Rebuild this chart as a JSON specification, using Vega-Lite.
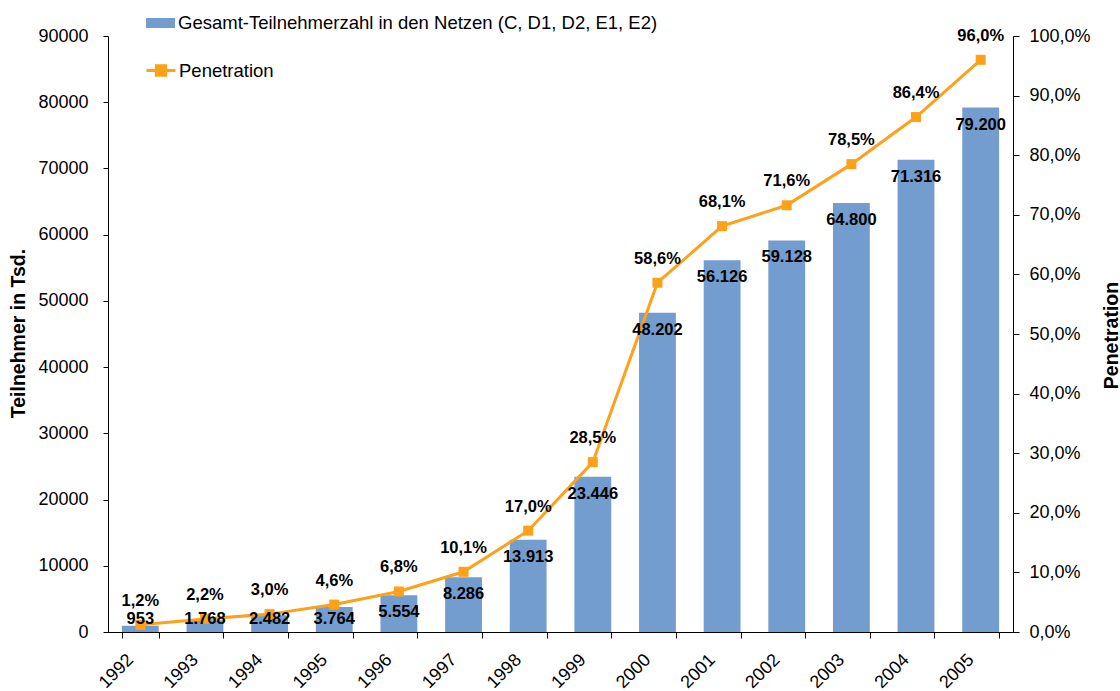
{
  "$schema": "https://vega.github.io/schema/vega-lite/v6.json",
  "width": 905,
  "height": 596,
  "autosize": {"type": "none"},
  "padding": {"left": 108, "top": 36, "right": 107, "bottom": 59},
  "background": "white",
  "config": {
    "locale": {"number": {"decimal": ",", "thousands": ".", "grouping": [3], "currency": ["", " €"]}},
    "view": {"stroke": null},
    "font": "Liberation Sans",
    "axis": {
      "domainColor": "#000", "tickColor": "#000", "labelColor": "#000", "titleColor": "#000",
      "labelFont": "Liberation Sans", "titleFont": "Liberation Sans",
      "labelFontSize": 18, "titleFontSize": 19.5, "titleFontWeight": "bold",
      "grid": false, "domainWidth": 1, "tickWidth": 1
    }
  },
  "data": {"values": [
    {"year": "1992", "value": 953, "pen": 0.012},
    {"year": "1993", "value": 1768, "pen": 0.022},
    {"year": "1994", "value": 2482, "pen": 0.030},
    {"year": "1995", "value": 3764, "pen": 0.046},
    {"year": "1996", "value": 5554, "pen": 0.068},
    {"year": "1997", "value": 8286, "pen": 0.101},
    {"year": "1998", "value": 13913, "pen": 0.170},
    {"year": "1999", "value": 23446, "pen": 0.285},
    {"year": "2000", "value": 48202, "pen": 0.586},
    {"year": "2001", "value": 56126, "pen": 0.681},
    {"year": "2002", "value": 59128, "pen": 0.716},
    {"year": "2003", "value": 64800, "pen": 0.785},
    {"year": "2004", "value": 71316, "pen": 0.864},
    {"year": "2005", "value": 79200, "pen": 0.960}
  ]},
  "encoding": {
    "x": {
      "field": "year", "type": "ordinal",
      "scale": {"paddingInner": 0.43, "paddingOuter": 0.215},
      "axis": {
        "title": null, "labelAngle": -45, "labelAlign": "right", "labelBaseline": "middle",
        "labelOffset": -10, "labelPadding": 19,
        "tickBand": "extent", "tickSize": 6
      }
    }
  },
  "layer": [
    {
      "encoding": {
        "y": {
          "field": "value", "type": "quantitative",
          "scale": {"domain": [0, 90000], "nice": false},
          "axis": {
            "title": "Teilnehmer in Tsd.",
            "values": [0, 10000, 20000, 30000, 40000, 50000, 60000, 70000, 80000, 90000],
            "format": "d", "tickSize": 5, "labelPadding": 15,
            "titleX": -90, "titleY": 297, "titleAngle": 270, "titleAlign": "center", "titleBaseline": "middle"
          }
        }
      },
      "layer": [
        {
          "mark": {"type": "bar", "color": "#739dce"},
          "encoding": {
            "fill": {
              "datum": "Gesamt-Teilnehmerzahl in den Netzen (C, D1, D2, E1, E2)",
              "scale": {"range": ["#739dce"]},
              "legend": {
                "orient": "none", "legendX": 37, "legendY": -28.5, "title": null,
                "symbolType": "M-1,-0.345H1V0.345H-1Z", "symbolSize": 841,
                "labelFontSize": 18.5, "labelFont": "Liberation Sans", "labelColor": "#000",
                "labelOffset": 2, "padding": 0, "labelLimit": 0
              }
            }
          }
        }
      ]
    },
    {
      "encoding": {
        "y": {
          "field": "pen", "type": "quantitative",
          "scale": {"domain": [0, 1], "nice": false},
          "axis": {
            "orient": "right", "title": "Penetration",
            "values": [0, 0.1, 0.2, 0.3, 0.4, 0.5, 0.6, 0.7, 0.8, 0.9, 1.0],
            "format": ".1%", "tickSize": 6, "labelPadding": 10,
            "titleX": 98, "titleY": 299, "titleAngle": 270, "titleAlign": "center", "titleBaseline": "middle"
          }
        }
      },
      "layer": [
        {
          "mark": {"type": "line", "strokeWidth": 3},
          "encoding": {
            "stroke": {
              "datum": "Penetration",
              "scale": {"range": ["#fea11a"]},
              "legend": {
                "orient": "none", "legendX": 37, "legendY": 18.5, "title": null,
                "symbolType": "M-1,0H1M-0.32,-0.32H0.32V0.32H-0.32Z", "symbolSize": 841,
                "symbolStrokeWidth": 3,
                "labelFontSize": 18.5, "labelFont": "Liberation Sans", "labelColor": "#000",
                "labelOffset": 2, "padding": 0, "labelLimit": 0,
                "encode": {"symbols": {"update": {"fill": {"value": "#fea11a"}, "stroke": {"value": "#fea11a"}}}}
              }
            }
          }
        },
        {
          "mark": {"type": "point", "shape": "square", "filled": true, "size": 100, "color": "#fea11a", "opacity": 1}
        },
        {
          "mark": {"type": "text", "dy": -24, "fontWeight": "bold", "fontSize": 16.5, "baseline": "middle", "color": "#000"},
          "encoding": {"text": {"field": "pen", "type": "quantitative", "format": ".1%"}}
        }
      ]
    },
    {
      "encoding": {
        "y": {
          "field": "value", "type": "quantitative",
          "scale": {"domain": [0, 90000], "nice": false},
          "axis": null
        }
      },
      "layer": [
        {
          "transform": [{"filter": "datum.value >= 5000"}],
          "mark": {"type": "text", "dy": 17, "fontWeight": "bold", "fontSize": 16.5, "baseline": "middle", "color": "#000"},
          "encoding": {"text": {"field": "value", "type": "quantitative", "format": ",d"}}
        },
        {
          "transform": [{"filter": "datum.value < 5000"}],
          "mark": {"type": "text", "dy": -13, "fontWeight": "bold", "fontSize": 16.5, "baseline": "middle", "color": "#000"},
          "encoding": {
            "y": {"datum": 0},
            "text": {"field": "value", "type": "quantitative", "format": ",d"}
          }
        }
      ]
    }
  ],
  "resolve": {"scale": {"y": "independent"}}
}
